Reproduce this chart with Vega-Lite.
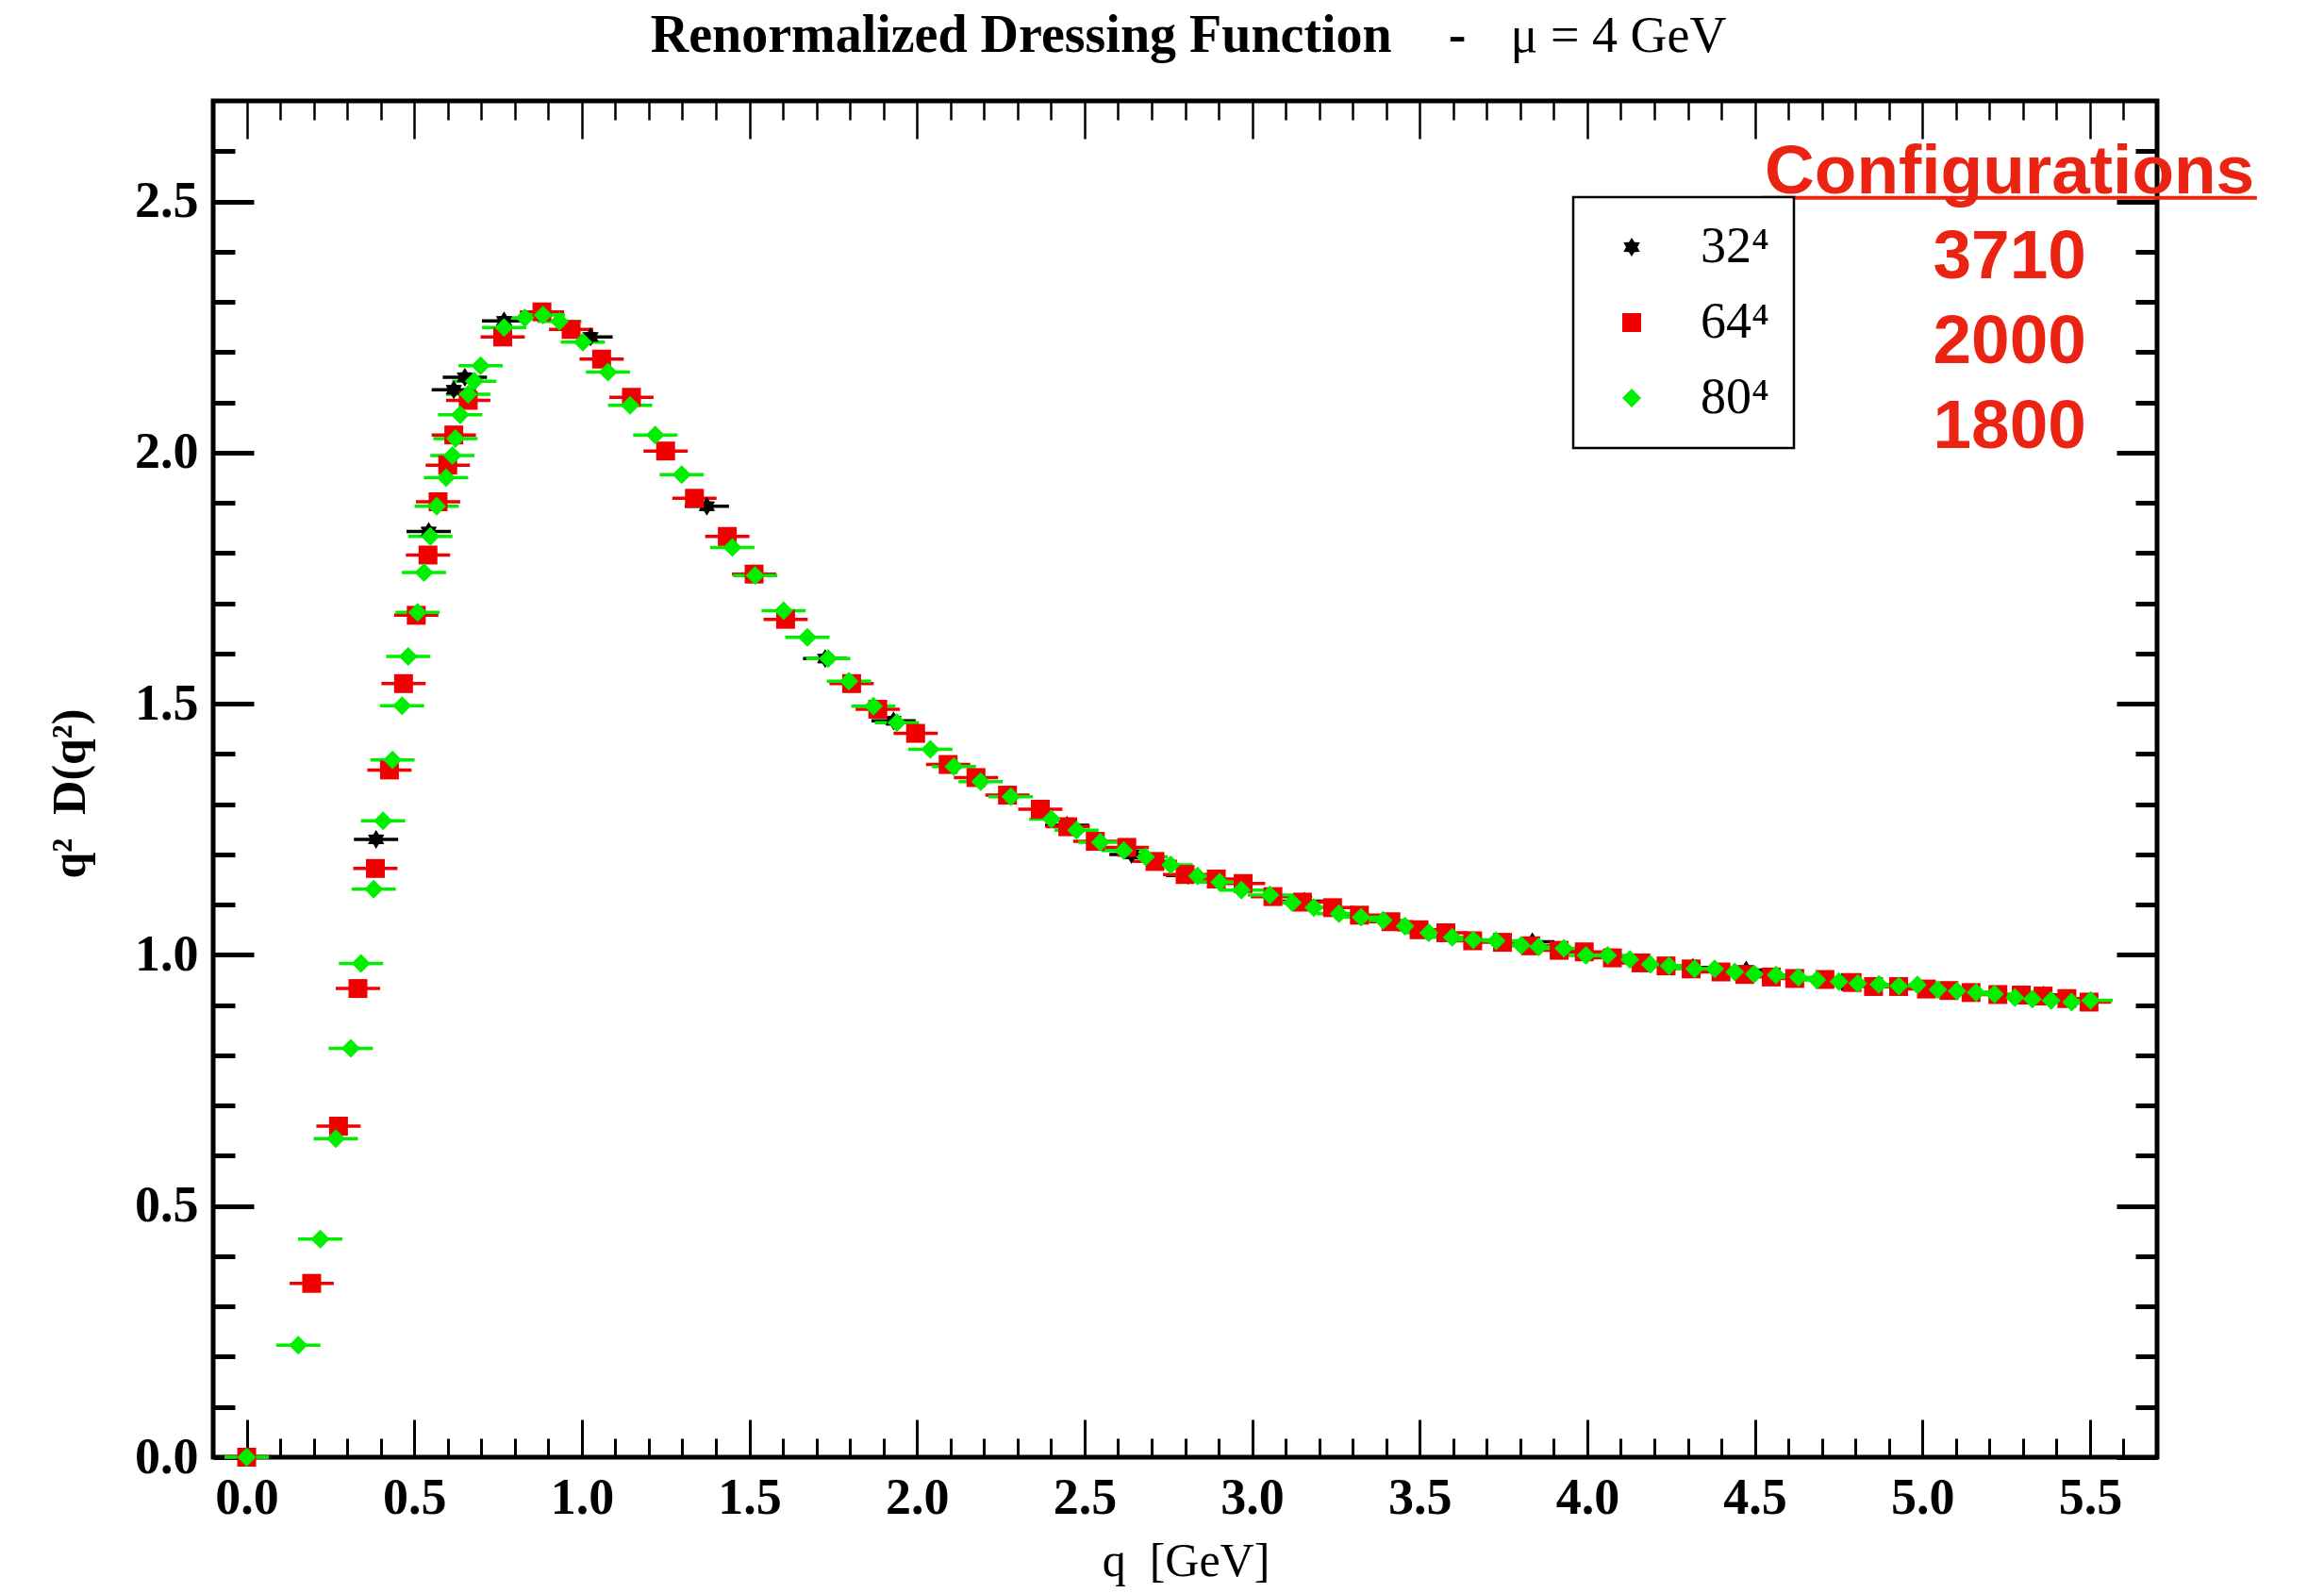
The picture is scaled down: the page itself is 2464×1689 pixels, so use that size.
{
  "$schema": "https://vega.github.io/schema/vega-lite/v6.json",
  "width": 2061,
  "height": 1438,
  "autosize": {"type": "none"},
  "padding": {"left": 226, "top": 107, "right": 177, "bottom": 144},
  "background": "white",
  "config": {
    "view": {"stroke": "black", "strokeWidth": 5},
    "legend": {"strokeWidth": 2.5}
  },
  "data": {
    "values": [
      {"lattice": "32⁴", "q": 0.0, "D": 0.0, "dq": 0.066},
      {"lattice": "32⁴", "q": 0.386, "D": 1.23, "dq": 0.066},
      {"lattice": "32⁴", "q": 0.543, "D": 1.843, "dq": 0.066},
      {"lattice": "32⁴", "q": 0.618, "D": 2.125, "dq": 0.066},
      {"lattice": "32⁴", "q": 0.651, "D": 2.15, "dq": 0.066},
      {"lattice": "32⁴", "q": 0.768, "D": 2.262, "dq": 0.066},
      {"lattice": "32⁴", "q": 1.026, "D": 2.23, "dq": 0.066},
      {"lattice": "32⁴", "q": 1.373, "D": 1.893, "dq": 0.066},
      {"lattice": "32⁴", "q": 1.726, "D": 1.59, "dq": 0.066},
      {"lattice": "32⁴", "q": 1.93, "D": 1.466, "dq": 0.066},
      {"lattice": "32⁴", "q": 2.448, "D": 1.258, "dq": 0.066},
      {"lattice": "32⁴", "q": 2.64, "D": 1.2, "dq": 0.066},
      {"lattice": "32⁴", "q": 2.809, "D": 1.158, "dq": 0.066},
      {"lattice": "32⁴", "q": 3.156, "D": 1.107, "dq": 0.066},
      {"lattice": "32⁴", "q": 3.836, "D": 1.026, "dq": 0.066},
      {"lattice": "32⁴", "q": 4.315, "D": 0.975, "dq": 0.066},
      {"lattice": "32⁴", "q": 4.474, "D": 0.97, "dq": 0.066},
      {"lattice": "32⁴", "q": 4.76, "D": 0.946, "dq": 0.066},
      {"lattice": "32⁴", "q": 4.93, "D": 0.937, "dq": 0.066},
      {"lattice": "32⁴", "q": 5.361, "D": 0.92, "dq": 0.066},

      {"lattice": "64⁴", "q": 0.0, "D": 0.0, "dq": 0.066},
      {"lattice": "64⁴", "q": 0.194, "D": 0.346, "dq": 0.066},
      {"lattice": "64⁴", "q": 0.274, "D": 0.659, "dq": 0.066},
      {"lattice": "64⁴", "q": 0.332, "D": 0.933, "dq": 0.066},
      {"lattice": "64⁴", "q": 0.384, "D": 1.172, "dq": 0.066},
      {"lattice": "64⁴", "q": 0.426, "D": 1.368, "dq": 0.066},
      {"lattice": "64⁴", "q": 0.468, "D": 1.54, "dq": 0.066},
      {"lattice": "64⁴", "q": 0.506, "D": 1.676, "dq": 0.066},
      {"lattice": "64⁴", "q": 0.541, "D": 1.796, "dq": 0.066},
      {"lattice": "64⁴", "q": 0.571, "D": 1.902, "dq": 0.066},
      {"lattice": "64⁴", "q": 0.6, "D": 1.975, "dq": 0.066},
      {"lattice": "64⁴", "q": 0.618, "D": 2.035, "dq": 0.066},
      {"lattice": "64⁴", "q": 0.661, "D": 2.104, "dq": 0.066},
      {"lattice": "64⁴", "q": 0.764, "D": 2.23, "dq": 0.066},
      {"lattice": "64⁴", "q": 0.881, "D": 2.28, "dq": 0.066},
      {"lattice": "64⁴", "q": 0.968, "D": 2.245, "dq": 0.066},
      {"lattice": "64⁴", "q": 1.059, "D": 2.186, "dq": 0.066},
      {"lattice": "64⁴", "q": 1.148, "D": 2.11, "dq": 0.066},
      {"lattice": "64⁴", "q": 1.25, "D": 2.003, "dq": 0.066},
      {"lattice": "64⁴", "q": 1.336, "D": 1.909, "dq": 0.066},
      {"lattice": "64⁴", "q": 1.434, "D": 1.833, "dq": 0.066},
      {"lattice": "64⁴", "q": 1.514, "D": 1.758, "dq": 0.066},
      {"lattice": "64⁴", "q": 1.608, "D": 1.668, "dq": 0.066},
      {"lattice": "64⁴", "q": 1.805, "D": 1.54, "dq": 0.066},
      {"lattice": "64⁴", "q": 1.883, "D": 1.489, "dq": 0.066},
      {"lattice": "64⁴", "q": 1.996, "D": 1.441, "dq": 0.066},
      {"lattice": "64⁴", "q": 2.093, "D": 1.379, "dq": 0.066},
      {"lattice": "64⁴", "q": 2.176, "D": 1.353, "dq": 0.066},
      {"lattice": "64⁴", "q": 2.27, "D": 1.318, "dq": 0.066},
      {"lattice": "64⁴", "q": 2.368, "D": 1.29, "dq": 0.066},
      {"lattice": "64⁴", "q": 2.45, "D": 1.255, "dq": 0.066},
      {"lattice": "64⁴", "q": 2.532, "D": 1.226, "dq": 0.066},
      {"lattice": "64⁴", "q": 2.626, "D": 1.214, "dq": 0.066},
      {"lattice": "64⁴", "q": 2.71, "D": 1.186, "dq": 0.066},
      {"lattice": "64⁴", "q": 2.8, "D": 1.16, "dq": 0.066},
      {"lattice": "64⁴", "q": 2.893, "D": 1.151, "dq": 0.066},
      {"lattice": "64⁴", "q": 2.973, "D": 1.142, "dq": 0.066},
      {"lattice": "64⁴", "q": 3.062, "D": 1.116, "dq": 0.066},
      {"lattice": "64⁴", "q": 3.15, "D": 1.105, "dq": 0.066},
      {"lattice": "64⁴", "q": 3.24, "D": 1.094, "dq": 0.066},
      {"lattice": "64⁴", "q": 3.32, "D": 1.079, "dq": 0.066},
      {"lattice": "64⁴", "q": 3.414, "D": 1.066, "dq": 0.066},
      {"lattice": "64⁴", "q": 3.498, "D": 1.05, "dq": 0.066},
      {"lattice": "64⁴", "q": 3.578, "D": 1.044, "dq": 0.066},
      {"lattice": "64⁴", "q": 3.658, "D": 1.028, "dq": 0.066},
      {"lattice": "64⁴", "q": 3.747, "D": 1.025, "dq": 0.066},
      {"lattice": "64⁴", "q": 3.83, "D": 1.018, "dq": 0.066},
      {"lattice": "64⁴", "q": 3.916, "D": 1.009, "dq": 0.066},
      {"lattice": "64⁴", "q": 3.991, "D": 1.006, "dq": 0.066},
      {"lattice": "64⁴", "q": 4.075, "D": 0.994, "dq": 0.066},
      {"lattice": "64⁴", "q": 4.16, "D": 0.984, "dq": 0.066},
      {"lattice": "64⁴", "q": 4.235, "D": 0.978, "dq": 0.066},
      {"lattice": "64⁴", "q": 4.31, "D": 0.972, "dq": 0.066},
      {"lattice": "64⁴", "q": 4.399, "D": 0.966, "dq": 0.066},
      {"lattice": "64⁴", "q": 4.47, "D": 0.961, "dq": 0.066},
      {"lattice": "64⁴", "q": 4.549, "D": 0.956, "dq": 0.066},
      {"lattice": "64⁴", "q": 4.619, "D": 0.953, "dq": 0.066},
      {"lattice": "64⁴", "q": 4.709, "D": 0.951, "dq": 0.066},
      {"lattice": "64⁴", "q": 4.79, "D": 0.945, "dq": 0.066},
      {"lattice": "64⁴", "q": 4.854, "D": 0.937, "dq": 0.066},
      {"lattice": "64⁴", "q": 4.929, "D": 0.937, "dq": 0.066},
      {"lattice": "64⁴", "q": 5.012, "D": 0.932, "dq": 0.066},
      {"lattice": "64⁴", "q": 5.079, "D": 0.929, "dq": 0.066},
      {"lattice": "64⁴", "q": 5.145, "D": 0.925, "dq": 0.066},
      {"lattice": "64⁴", "q": 5.225, "D": 0.921, "dq": 0.066},
      {"lattice": "64⁴", "q": 5.295, "D": 0.92, "dq": 0.066},
      {"lattice": "64⁴", "q": 5.36, "D": 0.918, "dq": 0.066},
      {"lattice": "64⁴", "q": 5.431, "D": 0.913, "dq": 0.066},
      {"lattice": "64⁴", "q": 5.497, "D": 0.906, "dq": 0.066},

      {"lattice": "80⁴", "q": 0.0, "D": 0.0, "dq": 0.066},
      {"lattice": "80⁴", "q": 0.154, "D": 0.223, "dq": 0.066},
      {"lattice": "80⁴", "q": 0.2195, "D": 0.434, "dq": 0.066},
      {"lattice": "80⁴", "q": 0.266, "D": 0.634, "dq": 0.066},
      {"lattice": "80⁴", "q": 0.3105, "D": 0.814, "dq": 0.066},
      {"lattice": "80⁴", "q": 0.341, "D": 0.983, "dq": 0.066},
      {"lattice": "80⁴", "q": 0.379, "D": 1.131, "dq": 0.066},
      {"lattice": "80⁴", "q": 0.407, "D": 1.267, "dq": 0.066},
      {"lattice": "80⁴", "q": 0.435, "D": 1.388, "dq": 0.066},
      {"lattice": "80⁴", "q": 0.4635, "D": 1.496, "dq": 0.066},
      {"lattice": "80⁴", "q": 0.482, "D": 1.594, "dq": 0.066},
      {"lattice": "80⁴", "q": 0.51, "D": 1.682, "dq": 0.066},
      {"lattice": "80⁴", "q": 0.529, "D": 1.761, "dq": 0.066},
      {"lattice": "80⁴", "q": 0.548, "D": 1.833, "dq": 0.066},
      {"lattice": "80⁴", "q": 0.567, "D": 1.893, "dq": 0.066},
      {"lattice": "80⁴", "q": 0.595, "D": 1.95, "dq": 0.066},
      {"lattice": "80⁴", "q": 0.614, "D": 1.994, "dq": 0.066},
      {"lattice": "80⁴", "q": 0.623, "D": 2.028, "dq": 0.066},
      {"lattice": "80⁴", "q": 0.637, "D": 2.075, "dq": 0.066},
      {"lattice": "80⁴", "q": 0.661, "D": 2.116, "dq": 0.066},
      {"lattice": "80⁴", "q": 0.679, "D": 2.142, "dq": 0.066},
      {"lattice": "80⁴", "q": 0.698, "D": 2.173, "dq": 0.066},
      {"lattice": "80⁴", "q": 0.768, "D": 2.249, "dq": 0.066},
      {"lattice": "80⁴", "q": 0.83, "D": 2.268, "dq": 0.066},
      {"lattice": "80⁴", "q": 0.884, "D": 2.274, "dq": 0.066},
      {"lattice": "80⁴", "q": 0.933, "D": 2.261, "dq": 0.066},
      {"lattice": "80⁴", "q": 1.003, "D": 2.22, "dq": 0.066},
      {"lattice": "80⁴", "q": 1.078, "D": 2.16, "dq": 0.066},
      {"lattice": "80⁴", "q": 1.144, "D": 2.094, "dq": 0.066},
      {"lattice": "80⁴", "q": 1.219, "D": 2.035, "dq": 0.066},
      {"lattice": "80⁴", "q": 1.298, "D": 1.956, "dq": 0.066},
      {"lattice": "80⁴", "q": 1.449, "D": 1.811, "dq": 0.066},
      {"lattice": "80⁴", "q": 1.517, "D": 1.755, "dq": 0.066},
      {"lattice": "80⁴", "q": 1.602, "D": 1.685, "dq": 0.066},
      {"lattice": "80⁴", "q": 1.673, "D": 1.632, "dq": 0.066},
      {"lattice": "80⁴", "q": 1.735, "D": 1.59, "dq": 0.066},
      {"lattice": "80⁴", "q": 1.797, "D": 1.545, "dq": 0.066},
      {"lattice": "80⁴", "q": 1.87, "D": 1.495, "dq": 0.066},
      {"lattice": "80⁴", "q": 1.94, "D": 1.462, "dq": 0.066},
      {"lattice": "80⁴", "q": 2.04, "D": 1.409, "dq": 0.066},
      {"lattice": "80⁴", "q": 2.11, "D": 1.375, "dq": 0.066},
      {"lattice": "80⁴", "q": 2.19, "D": 1.345, "dq": 0.066},
      {"lattice": "80⁴", "q": 2.28, "D": 1.315, "dq": 0.066},
      {"lattice": "80⁴", "q": 2.401, "D": 1.27, "dq": 0.066},
      {"lattice": "80⁴", "q": 2.476, "D": 1.248, "dq": 0.066},
      {"lattice": "80⁴", "q": 2.547, "D": 1.224, "dq": 0.066},
      {"lattice": "80⁴", "q": 2.617, "D": 1.208, "dq": 0.066},
      {"lattice": "80⁴", "q": 2.682, "D": 1.195, "dq": 0.066},
      {"lattice": "80⁴", "q": 2.757, "D": 1.179, "dq": 0.066},
      {"lattice": "80⁴", "q": 2.837, "D": 1.157, "dq": 0.066},
      {"lattice": "80⁴", "q": 2.903, "D": 1.145, "dq": 0.066},
      {"lattice": "80⁴", "q": 2.968, "D": 1.129, "dq": 0.066},
      {"lattice": "80⁴", "q": 3.053, "D": 1.119, "dq": 0.066},
      {"lattice": "80⁴", "q": 3.12, "D": 1.104, "dq": 0.066},
      {"lattice": "80⁴", "q": 3.184, "D": 1.094, "dq": 0.066},
      {"lattice": "80⁴", "q": 3.259, "D": 1.082, "dq": 0.066},
      {"lattice": "80⁴", "q": 3.325, "D": 1.075, "dq": 0.066},
      {"lattice": "80⁴", "q": 3.391, "D": 1.069, "dq": 0.066},
      {"lattice": "80⁴", "q": 3.456, "D": 1.057, "dq": 0.066},
      {"lattice": "80⁴", "q": 3.527, "D": 1.044, "dq": 0.066},
      {"lattice": "80⁴", "q": 3.597, "D": 1.035, "dq": 0.066},
      {"lattice": "80⁴", "q": 3.66, "D": 1.03, "dq": 0.066},
      {"lattice": "80⁴", "q": 3.728, "D": 1.028, "dq": 0.066},
      {"lattice": "80⁴", "q": 3.803, "D": 1.019, "dq": 0.066},
      {"lattice": "80⁴", "q": 3.855, "D": 1.016, "dq": 0.066},
      {"lattice": "80⁴", "q": 3.93, "D": 1.013, "dq": 0.066},
      {"lattice": "80⁴", "q": 3.996, "D": 0.999, "dq": 0.066},
      {"lattice": "80⁴", "q": 4.061, "D": 0.999, "dq": 0.066},
      {"lattice": "80⁴", "q": 4.127, "D": 0.991, "dq": 0.066},
      {"lattice": "80⁴", "q": 4.188, "D": 0.981, "dq": 0.066},
      {"lattice": "80⁴", "q": 4.244, "D": 0.978, "dq": 0.066},
      {"lattice": "80⁴", "q": 4.32, "D": 0.972, "dq": 0.066},
      {"lattice": "80⁴", "q": 4.38, "D": 0.972, "dq": 0.066},
      {"lattice": "80⁴", "q": 4.44, "D": 0.966, "dq": 0.066},
      {"lattice": "80⁴", "q": 4.498, "D": 0.962, "dq": 0.066},
      {"lattice": "80⁴", "q": 4.563, "D": 0.96, "dq": 0.066},
      {"lattice": "80⁴", "q": 4.63, "D": 0.955, "dq": 0.066},
      {"lattice": "80⁴", "q": 4.685, "D": 0.95, "dq": 0.066},
      {"lattice": "80⁴", "q": 4.751, "D": 0.947, "dq": 0.066},
      {"lattice": "80⁴", "q": 4.807, "D": 0.943, "dq": 0.066},
      {"lattice": "80⁴", "q": 4.87, "D": 0.941, "dq": 0.066},
      {"lattice": "80⁴", "q": 4.93, "D": 0.938, "dq": 0.066},
      {"lattice": "80⁴", "q": 4.985, "D": 0.94, "dq": 0.066},
      {"lattice": "80⁴", "q": 5.046, "D": 0.931, "dq": 0.066},
      {"lattice": "80⁴", "q": 5.103, "D": 0.928, "dq": 0.066},
      {"lattice": "80⁴", "q": 5.16, "D": 0.925, "dq": 0.066},
      {"lattice": "80⁴", "q": 5.215, "D": 0.922, "dq": 0.066},
      {"lattice": "80⁴", "q": 5.276, "D": 0.915, "dq": 0.066},
      {"lattice": "80⁴", "q": 5.328, "D": 0.912, "dq": 0.066},
      {"lattice": "80⁴", "q": 5.384, "D": 0.909, "dq": 0.066},
      {"lattice": "80⁴", "q": 5.445, "D": 0.906, "dq": 0.066},
      {"lattice": "80⁴", "q": 5.502, "D": 0.909, "dq": 0.066}
    ]
  },
  "layer": [
    {
      "mark": {"type": "errorbar", "rule": {"strokeWidth": 3.5}},
      "encoding": {
        "x": {
          "field": "q",
          "type": "quantitative",
          "scale": {"domain": [-0.1, 5.7], "nice": false, "zero": false},
          "axis": {
            "orient": "top",
            "values": [0, 0.1, 0.2, 0.3, 0.4, 0.5, 0.6, 0.7, 0.8, 0.9, 1, 1.1, 1.2, 1.3, 1.4, 1.5, 1.6, 1.7, 1.8, 1.9, 2, 2.1, 2.2, 2.3, 2.4, 2.5, 2.6, 2.7, 2.8, 2.9, 3, 3.1, 3.2, 3.3, 3.4, 3.5, 3.6, 3.7, 3.8, 3.9, 4, 4.1, 4.2, 4.3, 4.4, 4.5, 4.6, 4.7, 4.8, 4.9, 5, 5.1, 5.2, 5.3, 5.4, 5.5, 5.6],
            "domain": false,
            "grid": false,
            "labels": false,
            "title": null,
            "tickColor": "black",
            "tickWidth": 2.5,
            "tickSize": {"condition": {"test": "abs(datum.value * 2 - round(datum.value * 2)) < 0.001", "value": -40}, "value": -20}
          }
        },
        "xError": {"field": "dq"},
        "y": {
          "field": "D",
          "type": "quantitative",
          "scale": {"domain": [0, 2.7], "nice": false, "zero": false},
          "axis": {
            "orient": "right",
            "values": [0, 0.1, 0.2, 0.3, 0.4, 0.5, 0.6, 0.7, 0.8, 0.9, 1, 1.1, 1.2, 1.3, 1.4, 1.5, 1.6, 1.7, 1.8, 1.9, 2, 2.1, 2.2, 2.3, 2.4, 2.5, 2.6],
            "domain": false,
            "grid": false,
            "labels": false,
            "title": null,
            "tickColor": "black",
            "tickWidth": 5,
            "tickSize": {"condition": {"test": "abs(datum.value * 2 - round(datum.value * 2)) < 0.001", "value": -43}, "value": -23}
          }
        },
        "color": {
          "field": "lattice",
          "type": "nominal",
          "scale": {"domain": ["32⁴", "64⁴", "80⁴"], "range": ["#000000", "#f00000", "#00ee00"]}
        }
      }
    },
    {
      "mark": {"type": "point", "filled": true, "size": 400, "opacity": 1},
      "encoding": {
        "x": {
          "field": "q",
          "type": "quantitative",
          "axis": {
            "orient": "bottom",
            "values": [0, 0.1, 0.2, 0.3, 0.4, 0.5, 0.6, 0.7, 0.8, 0.9, 1, 1.1, 1.2, 1.3, 1.4, 1.5, 1.6, 1.7, 1.8, 1.9, 2, 2.1, 2.2, 2.3, 2.4, 2.5, 2.6, 2.7, 2.8, 2.9, 3, 3.1, 3.2, 3.3, 3.4, 3.5, 3.6, 3.7, 3.8, 3.9, 4, 4.1, 4.2, 4.3, 4.4, 4.5, 4.6, 4.7, 4.8, 4.9, 5, 5.1, 5.2, 5.3, 5.4, 5.5, 5.6],
            "domain": false,
            "grid": false,
            "tickColor": "black",
            "tickWidth": 3,
            "tickSize": {"condition": {"test": "abs(datum.value * 2 - round(datum.value * 2)) < 0.001", "value": -40}, "value": -20},
            "labelExpr": "abs(datum.value * 2 - round(datum.value * 2)) < 0.001 ? format(datum.value, '.1f') : ''",
            "labelFont": "Liberation Serif",
            "labelFontWeight": "bold",
            "labelFontSize": 54,
            "labelColor": "black",
            "labelPadding": 56,
            "labelOverlap": false,
            "labelFlush": false,
            "labelBound": false,
            "title": "q\u00a0\u00a0[GeV]",
            "titleFont": "Liberation Serif",
            "titleFontWeight": "normal",
            "titleFontSize": 50,
            "titleColor": "black",
            "titleX": 1031,
            "titleY": 125,
            "titleAlign": "center",
            "titleBaseline": "alphabetic"
          }
        },
        "y": {
          "field": "D",
          "type": "quantitative",
          "axis": {
            "orient": "left",
            "values": [0, 0.1, 0.2, 0.3, 0.4, 0.5, 0.6, 0.7, 0.8, 0.9, 1, 1.1, 1.2, 1.3, 1.4, 1.5, 1.6, 1.7, 1.8, 1.9, 2, 2.1, 2.2, 2.3, 2.4, 2.5, 2.6],
            "domain": false,
            "grid": false,
            "tickColor": "black",
            "tickWidth": 5,
            "tickSize": {"condition": {"test": "abs(datum.value * 2 - round(datum.value * 2)) < 0.001", "value": -43}, "value": -23},
            "labelExpr": "abs(datum.value * 2 - round(datum.value * 2)) < 0.001 ? format(datum.value, '.1f') : ''",
            "labelFont": "Liberation Serif",
            "labelFontWeight": "bold",
            "labelFontSize": 54,
            "labelColor": "black",
            "labelPadding": 59,
            "labelOverlap": false,
            "labelFlush": false,
            "labelBound": false,
            "title": "q\u00b2\u00a0\u00a0D(q\u00b2)",
            "titleFont": "Liberation Serif",
            "titleFontWeight": "bold",
            "titleFontSize": 50,
            "titleColor": "black",
            "titleX": -152,
            "titleY": 734,
            "titleAlign": "center",
            "titleBaseline": "middle"
          }
        },
        "color": {
          "field": "lattice",
          "type": "nominal",
          "scale": {"domain": ["32⁴", "64⁴", "80⁴"], "range": ["#000000", "#f00000", "#00ee00"]},
          "legend": {
            "title": null,
            "orient": "none",
            "legendX": 1442,
            "legendY": 102,
            "direction": "vertical",
            "strokeColor": "black",
            "fillColor": "white",
            "padding": 26,
            "symbolSize": 400,
            "symbolOffset": 9,
            "symbolStrokeWidth": 0,
            "labelOffset": 46,
            "rowPadding": 26,
            "labelFont": "Liberation Serif",
            "labelFontSize": 54,
            "labelColor": "black"
          }
        },
        "shape": {
          "field": "lattice",
          "type": "nominal",
          "scale": {
            "domain": ["32⁴", "64⁴", "80⁴"],
            "range": ["M0,-1L0.3,-0.52L0.866,-0.5L0.6,0L0.866,0.5L0.3,0.52L0,1L-0.3,0.52L-0.866,0.5L-0.6,0L-0.866,-0.5L-0.3,-0.52Z", "square", "diamond"]
          },
          "legend": {
            "title": null,
            "orient": "none",
            "legendX": 1442,
            "legendY": 102,
            "direction": "vertical",
            "strokeColor": "black",
            "fillColor": "white",
            "padding": 26,
            "symbolSize": 400,
            "symbolOffset": 9,
            "symbolStrokeWidth": 0,
            "labelOffset": 46,
            "rowPadding": 26,
            "labelFont": "Liberation Serif",
            "labelFontSize": 54,
            "labelColor": "black"
          }
        },
        "order": {"field": "lattice", "type": "nominal"}
      }
    },
    {
      "data": {"values": [{}]},
      "mark": {"type": "text", "text": "Renormalized Dressing Function", "font": "Liberation Serif", "fontWeight": "bold", "fontSize": 56, "align": "center", "baseline": "alphabetic", "color": "black"},
      "encoding": {
        "x": {"datum": 2.311, "type": "quantitative", "axis": null},
        "y": {"datum": 2.798, "type": "quantitative", "axis": null}
      }
    },
    {
      "data": {"values": [{}]},
      "mark": {"type": "text", "text": "-", "font": "Liberation Serif", "fontWeight": "bold", "fontSize": 56, "align": "center", "baseline": "alphabetic", "color": "black"},
      "encoding": {
        "x": {"datum": 3.612, "type": "quantitative", "axis": null},
        "y": {"datum": 2.798, "type": "quantitative", "axis": null}
      }
    },
    {
      "data": {"values": [{}]},
      "mark": {"type": "text", "text": "μ = 4 GeV", "font": "Liberation Serif", "fontWeight": "normal", "fontSize": 54, "align": "center", "baseline": "alphabetic", "color": "black"},
      "encoding": {
        "x": {"datum": 4.093, "type": "quantitative", "axis": null},
        "y": {"datum": 2.798, "type": "quantitative", "axis": null}
      }
    },
    {
      "data": {"values": [{}]},
      "mark": {"type": "text", "text": "Configurations", "font": "Liberation Sans", "fontWeight": "bold", "fontSize": 73, "align": "center", "baseline": "alphabetic", "color": "#ea2312"},
      "encoding": {
        "x": {"datum": 5.26, "type": "quantitative", "axis": null},
        "y": {"datum": 2.516, "type": "quantitative", "axis": null}
      }
    },
    {
      "data": {"values": [{}]},
      "mark": {"type": "rule", "color": "#ea2312", "strokeWidth": 4},
      "encoding": {
        "x": {"datum": 4.521, "type": "quantitative", "axis": null},
        "x2": {"datum": 5.998},
        "y": {"datum": 2.507, "type": "quantitative", "axis": null}
      }
    },
    {
      "data": {"values": [{}]},
      "mark": {"type": "text", "text": "3710", "font": "Liberation Sans", "fontWeight": "bold", "fontSize": 73, "align": "center", "baseline": "alphabetic", "color": "#ea2312"},
      "encoding": {
        "x": {"datum": 5.26, "type": "quantitative", "axis": null},
        "y": {"datum": 2.347, "type": "quantitative", "axis": null}
      }
    },
    {
      "data": {"values": [{}]},
      "mark": {"type": "text", "text": "2000", "font": "Liberation Sans", "fontWeight": "bold", "fontSize": 73, "align": "center", "baseline": "alphabetic", "color": "#ea2312"},
      "encoding": {
        "x": {"datum": 5.26, "type": "quantitative", "axis": null},
        "y": {"datum": 2.178, "type": "quantitative", "axis": null}
      }
    },
    {
      "data": {"values": [{}]},
      "mark": {"type": "text", "text": "1800", "font": "Liberation Sans", "fontWeight": "bold", "fontSize": 73, "align": "center", "baseline": "alphabetic", "color": "#ea2312"},
      "encoding": {
        "x": {"datum": 5.26, "type": "quantitative", "axis": null},
        "y": {"datum": 2.009, "type": "quantitative", "axis": null}
      }
    }
  ],
  "resolve": {"axis": {"x": "independent", "y": "independent"}}
}
